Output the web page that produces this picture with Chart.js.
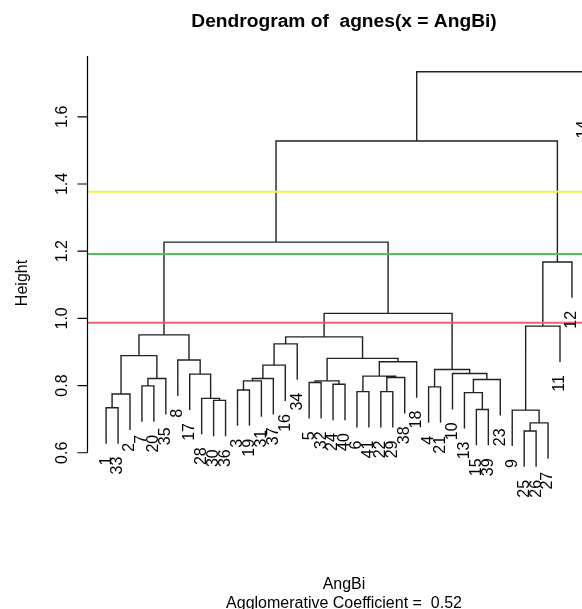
<!DOCTYPE html>
<html>
<head>
<meta charset="utf-8">
<title>Dendrogram of agnes(x = AngBi)</title>
<script src="https://cdn.jsdelivr.net/npm/chart.js@4.4.1/dist/chart.umd.min.js"></script>
<style>
  html, body { margin: 0; padding: 0; background: #fff; overflow: hidden; }
  canvas { display: block; }
</style>
</head>
<body>
<canvas id="dendro" width="640" height="609"></canvas>
<script>
// leaves in plotting order (observation numbers)
const leafOrder = [1, 33, 2, 7, 20, 35, 8, 17, 28, 30, 36, 3, 19, 31, 37, 16, 34,
  5, 32, 24, 40, 6, 41, 22, 29, 38, 18, 4, 21, 10, 13, 15, 39, 23, 9, 25, 26, 27, 11, 12, 14];

// merge table, hclust style: negative = observation, positive = earlier merge row
const mergeLeft  = [-1, 1, -7, 3, 2, -30, -28, -17, -8, 5, -3, 11, 12, 13, 14, -5, -24, 16, -6, -22,
  20, 19, 22, 18, 15, -4, -15, -13, 28, -10, 26, 25, 10, -25, 34, -9, 36, 37, 33, 39];
const mergeRight = [-33, -2, -20, -35, 4, -36, 6, 7, 8, 9, -19, -31, -37, -16, -34, -32, -40, 17, -41, -29,
  -38, 21, -18, 23, 24, -21, -39, 27, -23, 29, 30, 31, 32, -26, -27, 35, -11, -12, 38, -14];
const mergeHeight = [0.734, 0.775, 0.799, 0.821, 0.889, 0.756, 0.762, 0.834, 0.876, 0.951,
  0.787, 0.814, 0.821, 0.861, 0.924, 0.809, 0.804, 0.814, 0.782, 0.782,
  0.824, 0.828, 0.871, 0.881, 0.945, 0.796, 0.729, 0.779, 0.818, 0.836,
  0.848, 1.015, 1.227, 0.665, 0.689, 0.727, 0.977, 1.168, 1.528, 1.734];

const heightTicks = [0.6, 0.8, 1.0, 1.2, 1.4, 1.6];
const cutHeights = [1.377, 1.192, 0.987];

// leaves hang 10% of the height range below their merge
const hang = 0.1 * (Math.max(...mergeHeight) - Math.min(...mergeHeight));
const nodeX = [];
const leafBottom = {};

function childPoint(ref, h) {
  if (ref < 0) {
    const obs = -ref;
    leafBottom[obs] = h - hang;
    return { x: leafOrder.indexOf(obs) + 1, y: h - hang };
  }
  return { x: nodeX[ref - 1], y: mergeHeight[ref - 1] };
}

// one polyline per merge, broken with NaN points
const treePoints = [];
mergeHeight.forEach((h, i) => {
  const a = childPoint(mergeLeft[i], h);
  const b = childPoint(mergeRight[i], h);
  nodeX[i] = (a.x + b.x) / 2;
  treePoints.push({ x: a.x, y: a.y }, { x: a.x, y: h }, { x: b.x, y: h }, { x: b.x, y: b.y }, { x: NaN, y: NaN });
});

const xMin = 1 - 0.04 * (leafOrder.length - 1);
const xMax = leafOrder.length + 0.04 * (leafOrder.length - 1);

const cutColors = ['#f7ee45', '#52c061', '#f0626b'];
const cutSets = cutHeights.map((h, i) => ({
  data: [{ x: xMin, y: h }, { x: xMax, y: h }],
  showLine: true,
  borderColor: cutColors[i],
  borderWidth: 2,
  pointRadius: 0
}));

const FONT = '"Liberation Sans", Arial, sans-serif';

// axis, leaf labels and titles
const annotate = {
  id: 'annotate',
  afterDatasetsDraw(chart) {
    const { ctx, chartArea: area, scales: { x, y } } = chart;
    ctx.save();
    ctx.fillStyle = '#000';
    ctx.strokeStyle = '#000';
    ctx.lineWidth = 1.2;

    const ax = Math.round(area.left) + 0.5;
    ctx.beginPath();
    ctx.moveTo(ax, y.getPixelForValue(heightTicks[0]));
    ctx.lineTo(ax, area.top);
    heightTicks.forEach(t => {
      const py = y.getPixelForValue(t);
      ctx.moveTo(ax, py);
      ctx.lineTo(ax - 10, py);
    });
    ctx.stroke();

    ctx.font = '16px ' + FONT;
    ctx.textAlign = 'center';
    ctx.textBaseline = 'alphabetic';
    heightTicks.forEach(t => {
      ctx.save();
      ctx.translate(66.5, y.getPixelForValue(t));
      ctx.rotate(-Math.PI / 2);
      ctx.fillText(t.toFixed(1), 0, 0);
      ctx.restore();
    });

    ctx.save();
    ctx.translate(26.5, 283);
    ctx.rotate(-Math.PI / 2);
    ctx.fillText('Height', 0, 0);
    ctx.restore();

    // leaf labels hang below each leaf
    ctx.textAlign = 'right';
    ctx.textBaseline = 'middle';
    leafOrder.forEach((obs, i) => {
      ctx.save();
      ctx.translate(x.getPixelForValue(i + 1), y.getPixelForValue(leafBottom[obs]) + 13);
      ctx.rotate(-Math.PI / 2);
      ctx.fillText(String(obs), 0, 0);
      ctx.restore();
    });

    const cx = (area.left + area.right) / 2 - 1;
    ctx.textAlign = 'center';
    ctx.textBaseline = 'alphabetic';
    ctx.font = 'bold 19.2px ' + FONT;
    ctx.fillText('Dendrogram of  agnes(x = AngBi)', cx, 27);
    ctx.font = '16px ' + FONT;
    ctx.fillText('AngBi', cx, 588.5);
    ctx.fillText('Agglomerative Coefficient =  0.52', cx, 607.5);
    ctx.restore();
  }
};

new Chart(document.getElementById('dendro'), {
  type: 'scatter',
  data: {
    datasets: [
      ...cutSets,
      {
        data: treePoints,
        showLine: true,
        spanGaps: false,
        borderColor: '#222',
        borderWidth: 1.4,
        pointRadius: 0
      }
    ]
  },
  options: {
    responsive: false,
    animation: false,
    devicePixelRatio: 1,
    layout: { padding: { left: 87, right: 37, top: 56, bottom: 126 } },
    scales: {
      x: { type: 'linear', min: xMin, max: xMax, display: false },
      y: { type: 'linear', min: 0.51, max: 1.781, display: false }
    },
    plugins: {
      legend: { display: false },
      tooltip: { enabled: false }
    }
  },
  plugins: [annotate]
});
</script>
</body>
</html>
